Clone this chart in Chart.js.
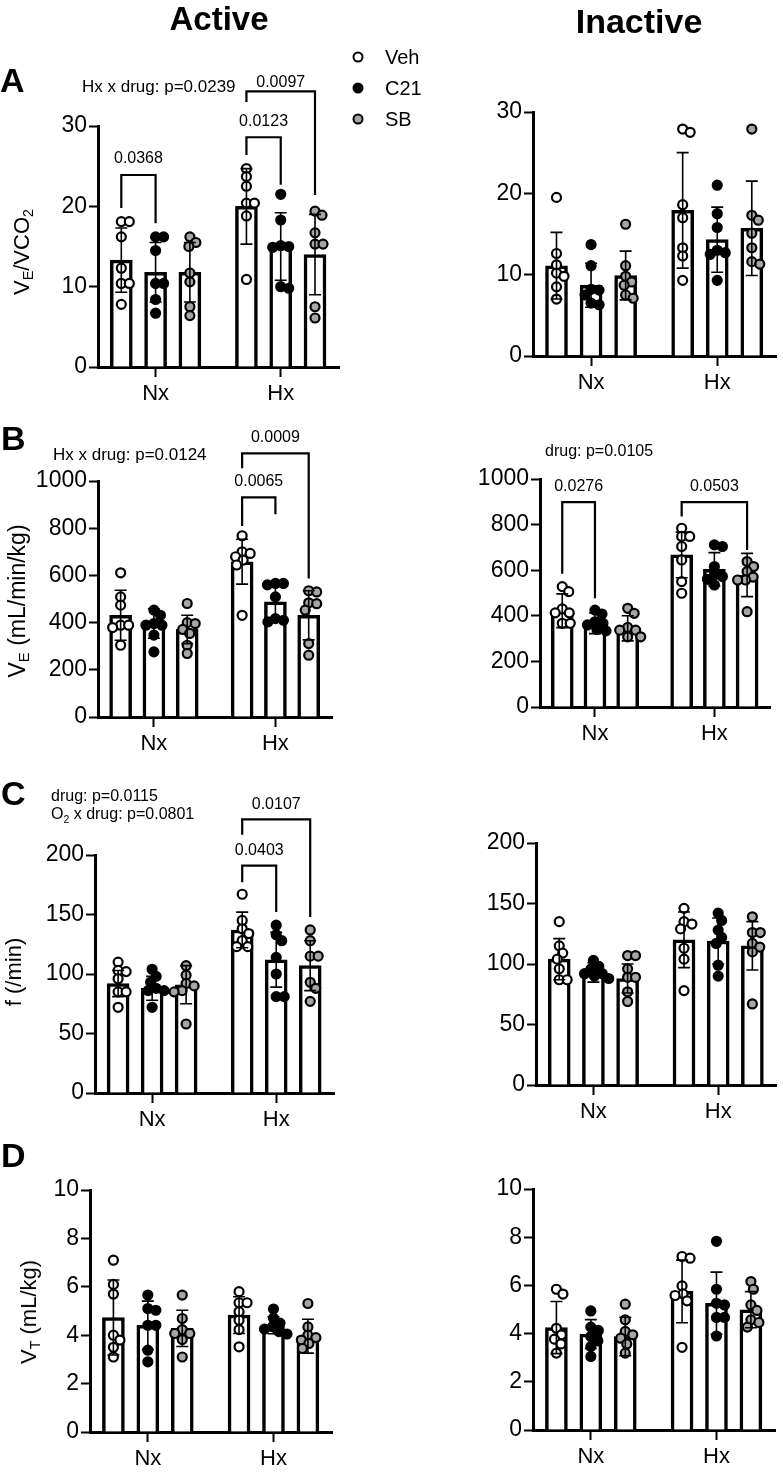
<!DOCTYPE html>
<html lang="en">
<head>
<meta charset="UTF-8">
<title>Ventilation - Active vs Inactive</title>
<script src="https://cdn.jsdelivr.net/npm/chart.js"></script>
<style>
  body { margin: 0; background: #fff; }
  #page { position: relative; width: 783px; height: 1473px; overflow: hidden;
          font-family: 'Liberation Sans', Arial, sans-serif; color: #000; }
  #page canvas { position: absolute; }
  .txt { position: absolute; line-height: 1; white-space: nowrap; }
  .sub { font-size: 0.65em; position: relative; top: 0.3em; }
  .dot { position: absolute; width: 11px; height: 11px; border: 2px solid #000; border-radius: 50%;
         box-sizing: border-box; transform: translate(-50%, -50%); }
</style>
</head>
<body>
<div id="page"></div>
<script>
// groups on the x axis and the three treatments inside each group
const groupLabels = ['Nx', 'Hx'];
const drugNames = ['Veh', 'C21', 'SB'];

// order in every array below: Nx-Veh, Nx-C21, Nx-SB, Hx-Veh, Hx-C21, Hx-SB
// A: VE/VCO2
const aActMean = [13.3, 11.8, 11.8, 20.0, 15.0, 14.0];
const aActSd = [4.0, 3.7, 3.7, 4.7, 4.2, 5.0];
const aActPts = [
  [18.1, 18.1, 16.2, 12.3, 10.4, 10.4, 7.8],
  [16.2, 16.2, 14.5, 10.4, 10.4, 8.4, 6.7],
  [16.2, 15.5, 15.0, 11.7, 10.6, 7.5, 6.4],
  [24.7, 23.7, 22.5, 20.4, 20.4, 18.8, 10.9],
  [21.5, 18.3, 15.1, 15.0, 14.9, 10.0, 9.8],
  [19.4, 18.9, 16.7, 15.3, 15.3, 7.5, 6.1]
];
const aInaMean = [11.1, 8.7, 9.9, 17.9, 14.3, 15.7];
const aInaSd = [4.1, 2.7, 3.0, 7.1, 4.0, 5.8];
const aInaPts = [
  [19.5, 12.6, 11.2, 10.2, 9.8, 8.5, 7.0],
  [13.7, 11.1, 8.2, 8.1, 7.5, 6.5, 6.3],
  [16.2, 11.1, 9.8, 9.1, 8.7, 7.5, 7.1],
  [27.9, 27.5, 18.6, 17.0, 13.3, 12.3, 9.3],
  [21.0, 17.5, 15.8, 13.0, 12.7, 12.5, 9.3],
  [27.9, 17.3, 16.7, 15.1, 13.3, 11.6, 11.3]
];

// B: VE (mL/min/kg)
const bActMean = [431, 396, 371, 658, 488, 431];
const bActSd = [106, 62, 60, 95, 70, 104];
const bActPts = [
  [611, 509, 474, 389, 389, 379, 304],
  [453, 431, 396, 389, 389, 347, 276],
  [481, 400, 396, 371, 354, 304, 269],
  [768, 700, 693, 679, 665, 644, 431],
  [566, 566, 560, 509, 417, 410, 403],
  [535, 530, 484, 480, 453, 311, 262]
];
const bInaMean = [422, 367, 345, 667, 604, 579];
const bInaSd = [74, 45, 55, 100, 73, 95];
const bInaPts = [
  [528, 506, 430, 413, 413, 367, 367],
  [425, 408, 374, 367, 360, 340, 334],
  [433, 411, 349, 337, 337, 308, 308],
  [784, 748, 748, 704, 645, 550, 499],
  [711, 704, 616, 580, 572, 560, 535],
  [638, 616, 594, 570, 557, 557, 418]
];

// C: f (/min)
const cActMean = [92, 88, 91, 137, 112, 107];
const cActSd = [11, 10, 16, 15, 23, 21];
const cActPts = [
  [110, 103, 102, 96, 85, 85, 72],
  [104, 98, 93, 88, 86, 86, 72],
  [107, 99, 92, 90, 86, 85, 58],
  [167, 145, 138, 134, 128, 123, 123],
  [141, 133, 128, 114, 100, 81, 81],
  [137, 128, 115, 115, 93, 88, 77]
];
const cInaMean = [104, 93, 88, 120, 119, 115];
const cInaSd = [17, 8, 12, 23, 19, 20];
const cInaPts = [
  [135, 115, 109, 104, 96, 87, 87],
  [103, 98, 96, 92, 92, 90, 88],
  [107, 107, 96, 89, 89, 77, 69],
  [146, 135, 133, 129, 113, 104, 78],
  [142, 136, 128, 122, 117, 99, 90],
  [139, 126, 126, 117, 114, 110, 67]
];

// D: VT (mL/kg)
const dActMean = [4.73, 4.41, 4.28, 4.83, 4.41, 3.96];
const dActSd = [1.55, 1.0, 0.75, 0.76, 0.35, 0.7];
const dActPts = [
  [7.1, 6.1, 5.7, 4.0, 3.8, 3.5, 3.1],
  [5.66, 5.1, 5.03, 4.41, 4.41, 3.38, 2.9],
  [5.66, 4.69, 4.23, 4.07, 4.07, 3.82, 3.1],
  [5.8, 5.34, 5.34, 4.97, 4.62, 4.23, 3.52],
  [5.08, 4.7, 4.5, 4.35, 4.25, 4.15, 4.05],
  [5.31, 4.34, 4.0, 3.9, 3.8, 3.66, 3.45]
];
const dInaMean = [4.25, 3.98, 3.88, 5.75, 5.26, 4.99];
const dInaSd = [1.08, 0.6, 0.8, 1.3, 1.29, 0.75];
const dInaPts = [
  [5.84, 5.64, 4.22, 3.95, 3.77, 3.57, 3.19],
  [4.94, 4.27, 4.13, 3.88, 3.7, 3.46, 3.05],
  [5.22, 4.57, 4.09, 3.95, 3.81, 3.57, 3.19],
  [7.2, 7.13, 5.98, 5.65, 5.58, 5.36, 3.43],
  [7.83, 5.84, 5.26, 5.19, 4.67, 4.67, 3.9],
  [6.16, 5.84, 5.19, 4.96, 4.57, 4.46, 4.27]
];

Chart.defaults.font.family = "'Liberation Sans', Arial, sans-serif";
Chart.defaults.color = '#000';

const groupGap = 0.65;
const slot = (g, d) => g * (drugNames.length + groupGap) + d;
const XMIN = -0.68, XMAX = 6.35, YW = 70, XH = 42;
const dotFill = ['#ffffff', '#000000', '#a6a6a6'];

// bracket = bars compared, top of bracket, leg ends, label height (value units)
const panels = [
  { box: [0, 0, 440, 410], axis: [98, 339, 126, 367], yMax: 30, step: 10,
    mean: aActMean, sd: aActSd, pts: aActPts,
    brackets: [
      { a: 0, b: 1, top: 23.9, l: 19.8, r: 17.9, ly: 25.9, text: '0.0368' },
      { a: 3, b: 4, top: 28.6, l: 26.4, r: 22.7, ly: 30.5, text: '0.0123' },
      { a: 3, b: 5, top: 34.3, l: 33.0, r: 21.4, ly: 35.4, text: '0.0097' }
    ] },
  { box: [440, 0, 343, 410], axis: [533, 776, 112, 356], yMax: 30, step: 10,
    mean: aInaMean, sd: aInaSd, pts: aInaPts, brackets: [] },
  { box: [0, 410, 440, 350], axis: [98, 332, 481, 717], yMax: 1000, step: 200,
    mean: bActMean, sd: bActSd, pts: bActPts,
    brackets: [
      { a: 3, b: 4, top: 931, l: 809, r: 859, ly: 997, text: '0.0065' },
      { a: 3, b: 5, top: 1117, l: 1054, r: 587, ly: 1184, text: '0.0009' }
    ] },
  { box: [440, 410, 343, 350], axis: [540, 770, 479, 707], yMax: 1000, step: 200,
    mean: bInaMean, sd: bInaSd, pts: bInaPts,
    brackets: [
      { a: 0, b: 1, top: 899, l: 584, r: 477, ly: 965, text: '0.0276' },
      { a: 3, b: 5, top: 899, l: 836, r: 689, ly: 965, text: '0.0503' }
    ] },
  { box: [0, 760, 440, 370], axis: [95, 334, 855, 1093], yMax: 200, step: 50,
    mean: cActMean, sd: cActSd, pts: cActPts,
    brackets: [
      { a: 3, b: 4, top: 191, l: 177, r: 152, ly: 204, text: '0.0403' },
      { a: 3, b: 5, top: 230, l: 217, r: 148, ly: 242, text: '0.0107' }
    ] },
  { box: [440, 760, 343, 370], axis: [536, 780, 843, 1085], yMax: 200, step: 50,
    mean: cInaMean, sd: cInaSd, pts: cInaPts, brackets: [] },
  { box: [0, 1130, 440, 343], axis: [90, 332, 1190, 1432], yMax: 10, step: 2,
    mean: dActMean, sd: dActSd, pts: dActPts, brackets: [] },
  { box: [440, 1130, 343, 343], axis: [533, 775, 1189, 1430], yMax: 10, step: 2,
    mean: dInaMean, sd: dInaSd, pts: dInaPts, brackets: [] }
];

// spread overlapping points sideways (simple beeswarm in pixel space)
function swarm(vals, cx, xppu, yppu) {
  const D = 8, placed = [];
  return vals.map(v => {
    const yp = v * yppu;
    let off = 0;
    for (let k = 0; k < 400; k++) {
      const c = (k % 2 ? 1 : -1) * Math.ceil(k / 2) * 0.5;
      if (placed.every(q => Math.hypot(q[0] - c, q[1] - yp) >= D)) { off = c; break; }
    }
    placed.push([off, yp]);
    return { x: cx + off / xppu, y: v };
  });
}

const errorBars = {
  id: 'errorBars',
  afterDatasetsDraw(chart) {
    const ds = chart.data.datasets[0];
    const meta = chart.getDatasetMeta(0);
    const y = chart.scales.y, ctx = chart.ctx;
    ctx.save();
    ctx.strokeStyle = '#000';
    ctx.lineWidth = 1.6;
    meta.data.forEach((bar, i) => {
      const m = ds.data[i].y, s = ds.sd[i];
      const yt = y.getPixelForValue(m + s), yb = y.getPixelForValue(m - s);
      ctx.beginPath();
      ctx.moveTo(bar.x, yt); ctx.lineTo(bar.x, yb);
      ctx.moveTo(bar.x - 6, yt); ctx.lineTo(bar.x + 6, yt);
      ctx.moveTo(bar.x - 6, yb); ctx.lineTo(bar.x + 6, yb);
      ctx.stroke();
    });
    ctx.restore();
  }
};

const brackets = {
  id: 'brackets',
  afterDraw(chart, args, opts) {
    const items = opts.items || [];
    const meta = chart.getDatasetMeta(0);
    const y = chart.scales.y, ctx = chart.ctx;
    ctx.save();
    ctx.strokeStyle = '#000';
    ctx.lineWidth = 2.2;
    ctx.fillStyle = '#000';
    ctx.font = "16px 'Liberation Sans', Arial, sans-serif";
    ctx.textAlign = 'center';
    ctx.textBaseline = 'middle';
    items.forEach(it => {
      const x1 = meta.data[it.a].x, x2 = meta.data[it.b].x;
      const yt = y.getPixelForValue(it.top);
      ctx.beginPath();
      ctx.moveTo(x1, y.getPixelForValue(it.l));
      ctx.lineTo(x1, yt);
      ctx.lineTo(x2, yt);
      ctx.lineTo(x2, y.getPixelForValue(it.r));
      ctx.stroke();
      ctx.fillText(it.text, (x1 + x2) / 2, y.getPixelForValue(it.ly));
    });
    ctx.restore();
  }
};

const page = document.getElementById('page');

panels.forEach(p => {
  const [cx, cy, cw, ch] = p.box;
  const [ax, ar, at, ab] = p.axis;
  const cv = document.createElement('canvas');
  cv.width = cw; cv.height = ch;
  cv.style.left = cx + 'px'; cv.style.top = cy + 'px';
  cv.style.width = cw + 'px'; cv.style.height = ch + 'px';
  page.appendChild(cv);

  const xppu = (ar - ax) / (XMAX - XMIN);
  const yppu = (ab - at) / p.yMax;

  const barData = p.mean.map((m, i) => ({ x: slot(Math.floor(i / 3), i % 3), y: m }));
  const dotSets = drugNames.map((name, d) => {
    const data = [];
    groupLabels.forEach((g, gi) => {
      data.push(...swarm(p.pts[gi * 3 + d], slot(gi, d), xppu, yppu));
    });
    return {
      type: 'scatter', label: name, data, order: 0,
      pointRadius: 4.5, pointBorderWidth: 2.2,
      pointBackgroundColor: dotFill[d], pointBorderColor: '#000'
    };
  });

  new Chart(cv, {
    type: 'bar',
    data: {
      datasets: [
        { type: 'bar', label: 'mean', data: barData, sd: p.sd, order: 1,
          backgroundColor: '#fff', borderColor: '#000', borderWidth: 3.5, barThickness: 22 },
        ...dotSets
      ]
    },
    options: {
      responsive: false,
      animation: false,
      devicePixelRatio: 1,
      layout: { padding: { left: ax - cx - YW, right: cx + cw - ar, top: at - cy, bottom: cy + ch - ab - XH } },
      plugins: {
        legend: { display: false },
        tooltip: { enabled: false },
        brackets: { items: p.brackets }
      },
      scales: {
        x: {
          type: 'linear', min: XMIN, max: XMAX, offset: false,
          afterBuildTicks: s => { s.ticks = groupLabels.map((g, gi) => ({ value: slot(gi, 1) })); },
          afterFit: s => { s.height = XH; },
          ticks: { callback: (v, i) => groupLabels[i], font: { size: 22 }, color: '#000',
                   padding: 4, autoSkip: false, maxRotation: 0 },
          grid: { drawOnChartArea: false, offset: false, tickLength: 10, tickWidth: 2, tickColor: '#000' },
          border: { width: 3, color: '#000' }
        },
        y: {
          min: 0, max: p.yMax,
          afterFit: s => { s.width = YW; },
          ticks: { stepSize: p.step, font: { size: 23 }, color: '#000', padding: 2,
                   callback: v => String(v) },
          grid: { drawOnChartArea: false, tickLength: 9, tickWidth: 2, tickColor: '#000' },
          border: { width: 3, color: '#000' }
        }
      }
    },
    plugins: [errorBars, brackets]
  });
});

// text outside the plot areas
function addText(html, x, base, size, bold, center) {
  const el = document.createElement('div');
  el.className = 'txt';
  el.innerHTML = html;
  el.style.fontSize = size + 'px';
  el.style.fontWeight = bold ? 'bold' : 'normal';
  el.style.left = x + 'px';
  el.style.top = (base - 0.8465 * size) + 'px';
  if (center) el.style.transform = 'translateX(-50%)';
  page.appendChild(el);
}
function addYTitle(html, baseX, cy, size) {
  const el = document.createElement('div');
  el.className = 'txt';
  el.innerHTML = html;
  el.style.fontSize = size + 'px';
  el.style.left = (baseX - 0.3465 * size) + 'px';
  el.style.top = cy + 'px';
  el.style.transform = 'translate(-50%, -50%) rotate(-90deg)';
  page.appendChild(el);
}

addText('Active', 219, 30, 33, true, true);
addText('Inactive', 639, 33, 34, true, true);
addText('A', 0, 92, 34, true);
addText('B', 1, 450, 34, true);
addText('C', 1, 805, 34, true);
addText('D', 1, 1167, 34, true);

addText('Hx x drug: p=0.0239', 82, 92, 17);
addText('Hx x drug: p=0.0124', 53, 460, 17);
addText('drug: p=0.0105', 545, 457, 16);
addText('drug: p=0.0115', 51, 802, 16);
addText('O<span class="sub">2</span> x drug: p=0.0801', 51, 820, 16);

addYTitle('V<span class="sub">E</span>/VCO<span class="sub">2</span>', 30, 252, 22);
addYTitle('V<span class="sub">E</span> (mL/min/kg)', 25, 601, 23);
addYTitle('f (/min)', 22, 972, 22);
addYTitle('V<span class="sub">T</span> (mL/kg)', 37, 1312, 22);

// legend
drugNames.forEach((name, d) => {
  const cyL = 57 + d * 31;
  const dot = document.createElement('div');
  dot.className = 'dot';
  dot.style.left = '358px';
  dot.style.top = cyL + 'px';
  dot.style.background = dotFill[d];
  page.appendChild(dot);
  addText(name, 385, cyL + 7, 20);
});
</script>
</body>
</html>
